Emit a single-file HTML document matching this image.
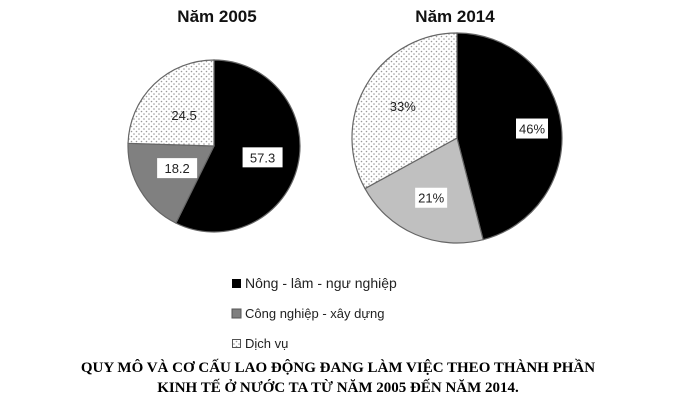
<!DOCTYPE html>
<html><head><meta charset="utf-8"><style>
body{margin:0;background:#fff;}
svg text{font-family:"Liberation Sans","DejaVu Sans",sans-serif;}
</style></head><body>
<svg width="676" height="405" xmlns="http://www.w3.org/2000/svg">
<defs>
<pattern id="dots" width="5" height="5" patternUnits="userSpaceOnUse">
<rect width="5" height="5" fill="#fff"/><circle cx="1.5" cy="1.5" r="0.8" fill="#999"/><circle cx="4" cy="4" r="0.8" fill="#999"/>
</pattern>
</defs>
<g id="pies"></g>
<g font-size="14" fill="#222">
<rect x="232" y="279" width="9" height="9" fill="#000"/>
<text x="245" y="288">Nông  - lâm - ngư nghiệp</text>
<rect x="232" y="309" width="9" height="9" fill="#808080" stroke="#555"/>
<text x="245" y="318" font-size="13">Công nghiệp - xây dựng</text>
<rect x="232.5" y="339.5" width="8" height="8" fill="url(#dots)" stroke="#555"/>
<text x="245" y="348" font-size="13">Dịch vụ</text>
</g>
<g font-family="Liberation Serif,serif" font-weight="bold" font-size="15" text-anchor="middle" fill="#000">
<text x="338" y="372" style="font-family:'Liberation Serif',serif">QUY MÔ VÀ CƠ CẤU LAO ĐỘNG ĐANG LÀM VIỆC THEO THÀNH PHẦN</text>
<text x="338" y="392" style="font-family:'Liberation Serif',serif">KINH TẾ Ở NƯỚC TA TỪ NĂM 2005 ĐẾN NĂM 2014.</text>
</g>
</svg>
<script>
const years = ["Năm 2005", "Năm 2014"];
const values2005 = [57.3, 18.2, 24.5];
const values2014 = [46, 21, 33];
const labels2005 = ["57.3", "18.2", "24.5"];
const labels2014 = ["46%", "21%", "33%"];
const sectors = ["agriculture", "industry", "services"];

const NS = "http://www.w3.org/2000/svg";
const g = document.getElementById("pies");
const layout = [
  {cx:214, cy:146, r:86, tx:217, series:values2005, labels:labels2005, fills:["#000","#808080","url(#dots)"]},
  {cx:457, cy:138, r:105, tx:455, series:values2014, labels:labels2014, fills:["#000","#c0c0c0","url(#dots)"]}
];
const labelRad = [[0.58,0.5,0.5],[0.72,0.62,0.6]];
function mk(tag, attrs){const e=document.createElementNS(NS,tag);for(const k in attrs)e.setAttribute(k,attrs[k]);return e;}
layout.forEach((p, pi) => {
  const t = mk("text",{x:p.tx,y:22,"text-anchor":"middle","font-size":"17","font-weight":"bold",fill:"#111"});
  t.textContent = years[pi];
  
  
  g.appendChild(t);
  const total = p.series.reduce((a,b)=>a+b,0);
  let acc = 0;
  p.series.forEach((v, i) => {
    const a0 = acc/total*2*Math.PI, a1 = (acc+v)/total*2*Math.PI;
    acc += v;
    const x0 = p.cx + p.r*Math.sin(a0), y0 = p.cy - p.r*Math.cos(a0);
    const x1 = p.cx + p.r*Math.sin(a1), y1 = p.cy - p.r*Math.cos(a1);
    const large = (a1-a0) > Math.PI ? 1 : 0;
    const path = mk("path",{d:`M${p.cx},${p.cy}L${x0},${y0}A${p.r},${p.r} 0 ${large} 1 ${x1},${y1}Z`,fill:p.fills[i],stroke:"#666","stroke-width":"1.2"});
    
    
    g.appendChild(path);
  });
  acc = 0;
  p.series.forEach((v, i) => {
    const am = (acc + v/2)/total*2*Math.PI; acc += v;
    const rr = p.r*labelRad[pi][i];
    const lx = p.cx + rr*Math.sin(am), ly = p.cy - rr*Math.cos(am);
    if (i < 2) {
      const w = p.labels[i].length*8+8;
      const b = mk("rect",{x:lx-w/2,y:ly-10,width:w,height:20,fill:"#fff"});
      
      
      g.appendChild(b);
    }
    const lt = mk("text",{x:lx,y:ly+5,"text-anchor":"middle","font-size":"13",fill:"#222"});
    lt.textContent = p.labels[i];
    
    
    g.appendChild(lt);
  });
});
</script>
</body></html>
